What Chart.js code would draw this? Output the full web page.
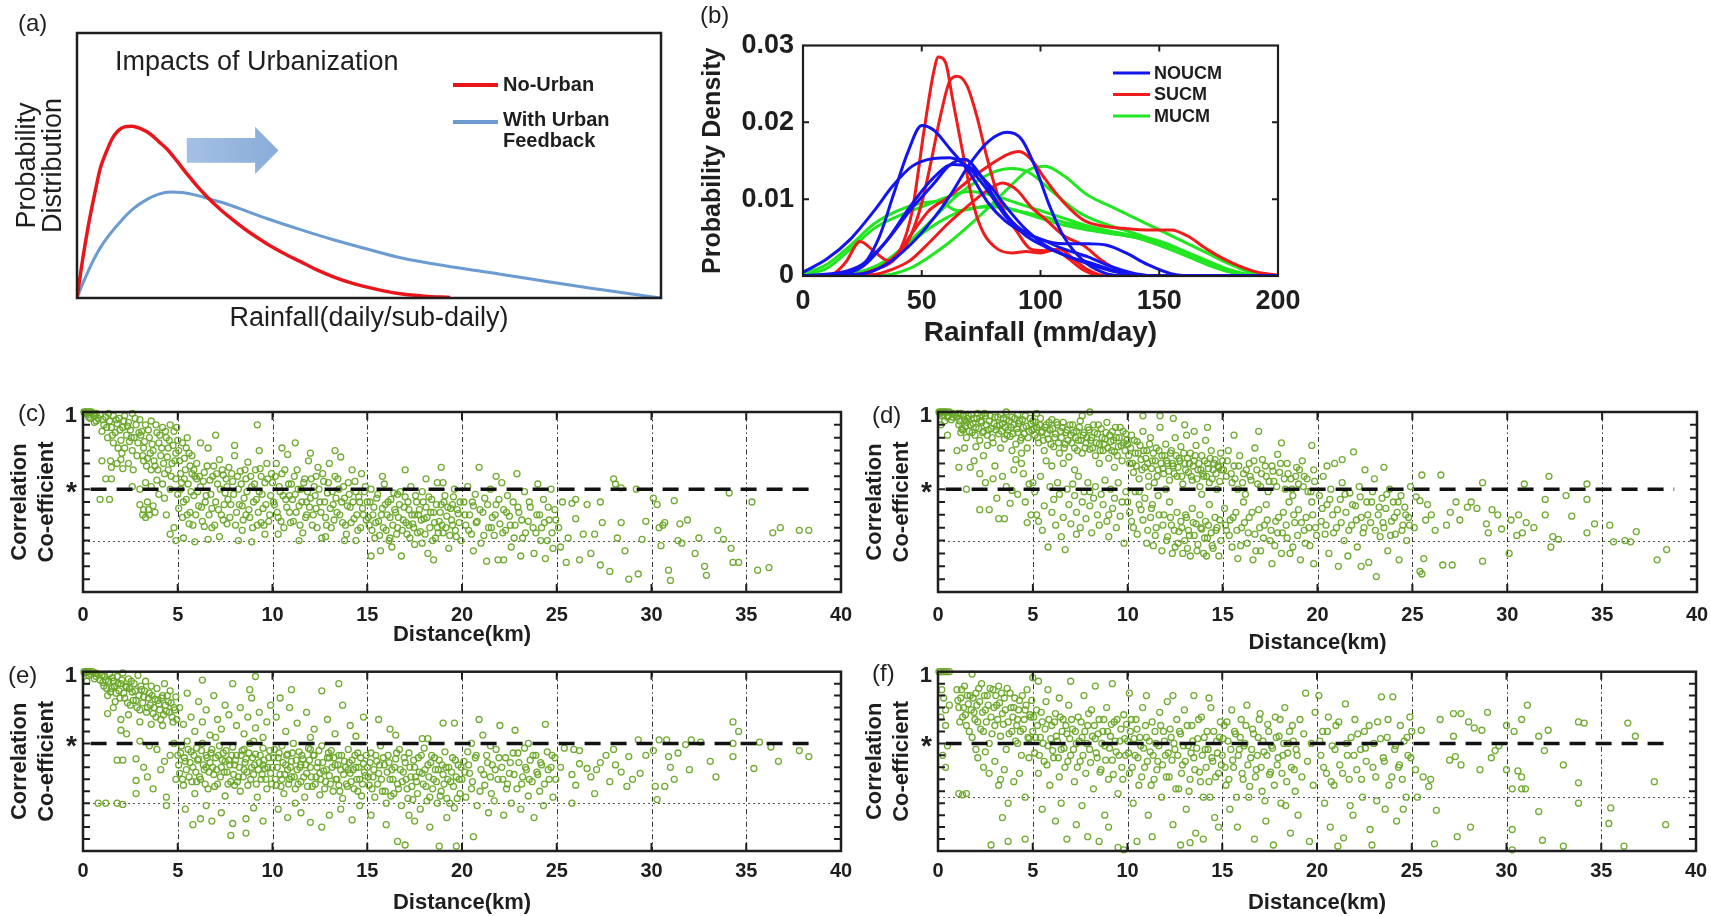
<!DOCTYPE html>
<html>
<head>
<meta charset="utf-8">
<script src="https://cdn.jsdelivr.net/npm/chart.js@4.4.1/dist/chart.umd.min.js"></script>
<style>
  body { margin: 0; background: #fff; width: 1711px; height: 916px; position: relative; overflow: hidden;
         font-family: "Liberation Sans", Arial, Helvetica, sans-serif; color: #1e1e1e; }
  .pane { position: absolute; }
  .tag { position: absolute; font-size: 24px; line-height: 24px; }
</style>
</head>
<body>
<div class="pane" style="left:0;top:0"><canvas id="chartA" width="690" height="345"></canvas></div>
<div class="pane" style="left:690px;top:20px"><canvas id="chartB" width="630" height="330"></canvas></div>
<div class="pane" style="left:0;top:395px"><canvas id="chartC" width="860" height="255"></canvas></div>
<div class="pane" style="left:855px;top:395px"><canvas id="chartD" width="856" height="265"></canvas></div>
<div class="pane" style="left:0;top:655px"><canvas id="chartE" width="860" height="262"></canvas></div>
<div class="pane" style="left:855px;top:655px"><canvas id="chartF" width="856" height="262"></canvas></div>

<div class="tag" style="left:18px;top:11px">(a)</div>
<div class="tag" style="left:700px;top:3px">(b)</div>
<div class="tag" style="left:18px;top:401px">(c)</div>
<div class="tag" style="left:872px;top:403px">(d)</div>
<div class="tag" style="left:8px;top:663px">(e)</div>
<div class="tag" style="left:872px;top:661px">(f)</div>

<script>
// ---- (a) schematic rainfall distributions (x: 0-100, y: 0-1) ----
const schemeNoUrban = [[0,0],[1,0.15],[2,0.28],[3,0.39],[4,0.49],[5,0.55],[6,0.6],[7,0.63],[8,0.645],[9.4,0.648],[11,0.638],
  [12.6,0.618],[14,0.59],[15.4,0.562],[17,0.52],[18.8,0.469],[20.5,0.424],[22.3,0.381],[24.5,0.335],[26.8,0.293],[29.5,0.248],
  [32.5,0.205],[35.3,0.17],[38.2,0.138],[41,0.107],[43.9,0.08],[46.8,0.058],[49.7,0.041],[52.5,0.027],[55.4,0.016],[59.5,0.007],[63.9,0.002]];
const schemeUrban = [[0,0],[1,0.055],[2,0.105],[2.8,0.142],[4,0.19],[5.7,0.243],[7.5,0.29],[9.7,0.338],[12,0.372],[14,0.392],
  [16,0.4],[18,0.398],[20,0.39],[22.5,0.375],[26,0.352],[29,0.328],[32.5,0.3],[38,0.26],[43.9,0.22],[50,0.183],[55.4,0.152],
  [64,0.118],[72.5,0.09],[81,0.06],[89.6,0.032],[95,0.015],[100,0]];

// ---- (b) probability density of daily rainfall, one array per run ----
const noucmRuns = [
  [[0,0],[25,0.0015],[32,0.005],[38,0.0105],[44,0.016],[50,0.0196],[55,0.019],[62,0.0165],[70,0.0135],[78,0.0095],[85,0.0072],[92,0.0058],[100,0.0048],[110,0.0035],[120,0.0025],[130,0.0012],[140,0.0003],[150,0],[200,0]],
  [[0,0],[25,0.0003],[35,0.0015],[45,0.004],[55,0.0075],[62,0.0105],[70,0.0145],[78,0.0175],[86,0.0187],[92,0.0178],[98,0.014],[104,0.009],[110,0.005],[118,0.002],[126,0.0005],[135,0],[200,0]],
  [[0,0.0005],[10,0.0022],[20,0.0048],[30,0.0085],[38,0.0118],[46,0.0143],[55,0.0153],[62,0.0154],[70,0.014],[78,0.011],[86,0.0075],[94,0.0052],[102,0.0038],[112,0.0025],[122,0.0014],[132,0.0005],[142,0],[200,0]],
  [[0,0],[15,0.0003],[25,0.0015],[35,0.0045],[45,0.0085],[55,0.012],[62,0.0145],[68,0.0152],[75,0.013],[82,0.0095],[90,0.0065],[100,0.0048],[110,0.0042],[120,0.0042],[128,0.004],[136,0.003],[145,0.0015],[155,0.0003],[165,0],[200,0]],
  [[0,0],[15,0.0002],[25,0.0012],[35,0.0045],[45,0.009],[55,0.0128],[63,0.0145],[70,0.0142],[78,0.012],[86,0.0088],[94,0.006],[102,0.004],[112,0.0025],[120,0.0018],[130,0.0008],[140,0.0001],[150,0],[200,0]]
];
const sucmRuns = [
  [[0,0],[12,0.0002],[18,0.0018],[24,0.0045],[30,0.0032],[36,0.002],[41,0.0035],[46,0.0085],[51,0.019],[55,0.0265],[57,0.0285],[60,0.0278],[63,0.023],[67,0.0165],[72,0.009],[76,0.0056],[82,0.0035],[88,0.003],[94,0.0032],[100,0.003],[106,0.0034],[112,0.0022],[118,0.0008],[126,0],[200,0]],
  [[0,0],[20,0],[30,0.0008],[38,0.002],[45,0.005],[50,0.0095],[54,0.015],[58,0.021],[62,0.0255],[65,0.026],[69,0.0248],[73,0.021],[77,0.016],[81,0.0115],[85,0.0082],[90,0.0058],[96,0.0035],[102,0.0033],[108,0.0035],[114,0.0022],[120,0.0008],[128,0],[200,0]],
  [[0,0],[25,0.0003],[33,0.0012],[40,0.003],[46,0.0056],[53,0.0085],[61,0.0102],[70,0.0125],[79,0.0145],[86,0.0158],[91,0.0162],[96,0.0152],[102,0.0126],[110,0.0095],[118,0.0073],[126,0.0065],[135,0.0062],[145,0.006],[155,0.006],[162,0.0052],[170,0.0035],[180,0.0018],[190,0.0006],[200,0.0001]],
  [[0,0],[30,0.0002],[37,0.0008],[45,0.002],[53,0.0043],[61,0.0068],[69,0.009],[77,0.011],[84,0.0121],[90,0.0112],[96,0.009],[102,0.0074],[110,0.0052],[118,0.004],[126,0.002],[134,0.0006],[142,0],[200,0]]
];
const mucmRuns = [
  [[0,0],[30,0],[45,0.001],[60,0.004],[75,0.008],[85,0.011],[95,0.0138],[102,0.0143],[110,0.013],[120,0.0105],[130,0.009],[140,0.0075],[150,0.006],[160,0.0045],[170,0.003],[180,0.0015],[190,0.0003],[200,0]],
  [[0,0],[20,0.0003],[35,0.002],[50,0.006],[65,0.0105],[80,0.0135],[88,0.014],[95,0.0135],[105,0.011],[115,0.0085],[125,0.007],[135,0.006],[145,0.005],[155,0.004],[165,0.0025],[175,0.001],[185,0.0002],[195,0],[200,0]],
  [[0,0.0002],[10,0.001],[20,0.0035],[30,0.0062],[40,0.0078],[50,0.009],[60,0.0102],[70,0.011],[80,0.0105],[90,0.0095],[100,0.0085],[110,0.0075],[120,0.0065],[130,0.0058],[140,0.0052],[150,0.0045],[160,0.0032],[170,0.0018],[180,0.0006],[190,0],[200,0]],
  [[0,0.0003],[10,0.0015],[20,0.004],[30,0.0068],[40,0.0085],[50,0.0095],[57,0.0097],[65,0.0085],[72,0.0088],[80,0.0092],[90,0.0085],[100,0.0075],[110,0.0066],[120,0.006],[130,0.0055],[140,0.005],[150,0.004],[160,0.0028],[170,0.0015],[180,0.0005],[190,0],[200,0]],
  [[0,0],[20,0.0002],[30,0.001],[40,0.003],[50,0.0055],[60,0.0075],[70,0.0088],[80,0.009],[90,0.0085],[100,0.0078],[110,0.007],[120,0.0063],[130,0.0056],[140,0.005],[150,0.0043],[160,0.0033],[170,0.002],[180,0.0008],[190,0.0001],[200,0]]
];

// ---- (c)-(f) correlation coefficient against station distance (km) ----
const corrC = [
  [0.05,1],[0.15,1],[0.25,1],[0.35,1],[0.45,1],[0.55,0.99],[0.7,0.99],[0.3,0.98],[0.6,0.97],[0.9,0.98],[0.8,0.95],[1.1,0.9],[0.4,0.95],[1.0,0.85],[0.6,0.92],
  [1.2,0.96],[1.4,0.93],[1.5,0.88],[1.6,0.97],[1.7,0.84],[1.8,0.91],[1.9,0.95],[2.0,0.78],[2.1,0.88],[2.2,0.97],[2.3,0.82],[2.4,0.92],[2.5,0.86],[2.6,0.99],[2.7,0.8],[2.8,0.9],[2.9,0.76],[3.0,0.94],
  [1.3,0.8],[1.6,0.76],[2.2,0.72],[2.6,0.7],[1.0,0.62],[1.5,0.57],[1.8,0.6],[2.0,0.63],[2.1,0.56],[2.4,0.6],[1.2,0.48],[1.5,0.48],[2.6,0.42],[0.9,0.32],[1.4,0.32],
  [3.1,0.85],[3.2,0.72],[3.3,0.9],[3.4,0.64],[3.5,0.8],[3.6,0.93],[3.7,0.7],[3.8,0.58],[3.9,0.84],[4.0,0.76],[4.1,0.66],[4.2,0.88],[4.3,0.52],[4.4,0.8],[4.5,0.72],[4.6,0.9],[4.7,0.6],[4.8,0.85],[4.9,0.68],[5.0,0.78],
  [3.3,0.45],[3.6,0.42],[3.9,0.47],[4.2,0.44],[4.6,0.4],[3.0,0.28],[3.2,0.24],[3.4,0.3],[3.5,0.2],[3.7,0.27],[3.3,0.18],[3.8,0.22],[4.4,0.2],[4.6,0.05],[4.8,0.1],[4.9,0.0],[4.3,0.33],[4.0,0.36],[3.6,0.55],[4.5,0.55],[4.9,0.48],[3.2,0.62],[3.0,0.4],
  [5.1,0.62],[5.2,0.45],[5.3,0.3],[5.4,0.55],[5.5,0.2],[5.6,0.68],[5.7,0.38],[5.8,0.12],[5.9,0.5],[6.0,0.6],[6.1,0.27],[6.2,0.42],[6.3,0.15],[6.4,0.53],[6.5,0.35],[6.6,0.72],[6.7,0.47],[6.8,0.1],[6.9,0.58],[7.0,0.3],
  [7.1,0.44],[7.2,0.63],[7.3,0.2],[7.4,0.51],[7.5,0.37],[7.6,0.13],[7.7,0.57],[7.8,0.28],[7.9,0.46],[8.0,0.66],[8.1,0.22],[8.2,0.4],[8.3,0.54],[8.4,0.08],[8.5,0.33],[8.6,0.48],[8.7,0.61],[8.8,0.18],[8.9,0.42],[9.0,0.3],
  [9.1,0.55],[9.2,0.12],[9.3,0.38],[9.4,0.5],[9.5,0.25],[9.6,0.45],[9.7,0.6],[9.8,0.15],[9.9,0.35],[5.3,0.02],[5.9,-0.01],[6.6,0.01],[7.2,0.03],[8.2,0.0],[8.9,-0.01],[5.5,0.8],[6.2,0.76],[7.0,0.82],[9.2,0.9],[8.0,0.74],
  [9.3,0.7],[6.8,0.25],[7.6,0.42],[8.4,0.27],[9.6,0.05],[5.0,0.36],[6.0,0.48],[7.4,0.16],[8.6,0.2],[9.4,0.14],[5.6,0.13],[6.4,0.11],
  [10.0,0.45],[10.1,0.28],[10.2,0.6],[10.3,0.18],[10.4,0.38],[10.5,0.52],[10.6,0.1],[10.7,0.32],[10.8,0.67],[10.9,0.22],[11.0,0.44],[11.1,0.15],[11.2,0.36],[11.3,0.55],[11.4,0.27],[11.5,0.4],[11.6,0.06],[11.7,0.48],[11.8,0.2],[11.9,0.62],
  [12.0,0.33],[12.1,0.12],[12.2,0.42],[12.3,0.25],[12.4,0.57],[12.5,0.3],[12.6,0.02],[12.7,0.46],[12.8,0.18],[12.9,0.37],[13.0,0.6],[13.1,0.1],[13.2,0.28],[13.3,0.5],[13.4,0.22],[13.5,0.4],[13.6,0.65],[13.7,0.14],[13.8,0.33],[13.9,0.05],
  [14.0,0.45],[14.1,0.26],[14.2,0.55],[14.3,0.17],[14.4,0.38],[14.5,0.08],[14.6,0.3],[14.7,0.52],[14.8,0.2],[14.9,0.42],[10.5,0.72],[11.2,0.76],[12.0,0.68],[13.3,0.7],[10.3,0.05],[11.4,0.0],[12.8,0.03],[13.8,0.0],[14.4,0.0],[12.3,0.5],
  [10.9,0.35],[11.8,0.3],
  [15.0,0.3],[15.1,0.12],[15.2,0.4],[15.3,0.2],[15.4,0.02],[15.5,0.33],[15.6,0.15],[15.7,-0.08],[15.8,0.25],[15.9,0.44],[16.0,0.08],[16.1,0.3],[16.2,0.18],[16.3,-0.05],[16.4,0.37],[16.5,0.22],[16.6,0.1],[16.7,0.28],[16.8,-0.12],[16.9,0.16],
  [17.0,0.34],[17.1,0.05],[17.2,0.24],[17.3,0.42],[17.4,0.13],[17.5,-0.03],[17.6,0.3],[17.7,0.2],[17.8,0.07],[17.9,0.38],[18.0,0.17],[18.1,0.26],[18.2,-0.1],[18.3,0.1],[18.4,0.32],[18.5,0.22],[18.6,0.02],[18.7,0.45],[18.8,0.15],[18.9,0.28],
  [19.0,0.06],[19.1,0.35],[19.2,0.19],[19.3,-0.06],[19.4,0.25],[19.5,0.12],[19.6,0.4],[19.7,0.03],[19.8,0.21],[19.9,0.3],[15.8,0.5],[17.0,0.55],[18.1,0.48],[16.6,0.36],[17.5,0.2],[18.7,0.1],[19.5,0.28],[19.0,0.45],[16.2,0.02],[17.9,-0.02],
  [15.2,-0.12],[18.5,-0.15],[17.2,0.12],[18.9,0.57],
  [20.1,0.3],[20.2,0.12],[20.3,0.42],[20.4,0.2],[20.5,0.05],[20.6,0.27],[20.7,0.36],[20.8,0.15],[20.9,0.57],[21.0,-0.02],[21.1,0.22],[21.2,0.33],[21.3,-0.16],[21.4,0.1],[21.5,0.4],[21.6,0.18],[21.7,0.04],[21.8,0.28],[21.9,-0.15],[22.0,0.13],
  [22.1,0.45],[22.2,0.24],[22.3,0.08],[22.4,0.35],[22.5,0.19],[22.6,-0.05],[22.7,0.3],[22.8,0.12],[22.9,0.52],[23.0,0.22],[23.2,0.02],[23.3,0.38],[23.5,0.15],[23.6,0.26],[23.8,-0.1],[23.9,0.06],[24.0,0.44],[24.1,0.2],[24.2,0.1],[24.3,0.32],
  [24.5,0.0],[24.6,0.16],[24.7,0.4],[24.8,-0.06],[24.9,0.24],[20.6,-0.08],[21.8,0.5],[23.1,-0.12],[22.2,-0.15],[24.4,-0.14],
  [25.1,0.1],[25.3,0.3],[25.5,-0.17],[25.6,0.02],[25.8,0.29],[26.0,0.17],[26.2,-0.15],[26.4,0.05],[26.6,0.28],[26.8,-0.1],[27.0,0.05],[27.3,0.3],[27.4,0.14],[27.3,-0.19],[27.8,-0.24],[28.0,0.48],[28.2,0.02],[28.4,0.41],[28.4,0.14],[28.6,-0.08],
  [28.8,-0.3],[29.3,-0.26],[29.5,0.01],[29.7,0.15],[29.2,0.4],[28.1,0.44],[26.0,0.32],[25.2,-0.05],
  [30.1,0.33],[30.3,0.28],[30.4,0.1],[30.5,-0.04],[30.7,0.14],[30.9,-0.23],[31.0,-0.31],[31.2,0.31],[31.4,0.0],[31.6,-0.02],[31.9,0.16],[32.3,-0.1],[32.5,0.02],[32.8,-0.2],[32.9,-0.27],[33.5,0.08],[33.8,0.01],[34.1,0.37],[34.2,-0.06],[34.3,-0.17],
  [34.6,-0.17],[30.6,0.12],[31.5,0.13],
  [35.3,0.3],[35.6,-0.23],[36.2,-0.21],[36.4,0.06],[36.8,0.1],[37.8,0.08],[38.3,0.08]
];
// crowded core of the (c) cloud
const corrCCore = [
  [0.1,0.99],[0.3,0.96],[0.7,0.93],[1.05,0.94],[1.35,0.99],[1.55,0.82],[1.75,0.94],[1.95,0.86],[2.15,0.93],[2.35,0.89],[2.55,0.8],[2.75,0.95],[2.95,0.84],[1.25,0.88],[1.85,0.72],[2.45,0.77],[2.05,0.68],[2.85,0.66],[1.45,0.62],[2.65,0.55],
  [3.05,0.82],[3.15,0.66],[3.25,0.77],[3.35,0.58],[3.45,0.86],[3.55,0.68],[3.65,0.75],[3.75,0.62],[3.85,0.9],[3.95,0.55],[4.05,0.82],[4.15,0.72],[4.25,0.6],[4.35,0.85],[4.45,0.65],[4.55,0.78],[4.65,0.5],[4.75,0.74],[4.85,0.62],[4.95,0.88],
  [5.05,0.7],[5.15,0.52],[5.25,0.76],[5.35,0.64],[5.45,0.72],[5.65,0.58],[5.75,0.66],[5.85,0.55],[3.45,0.24],[3.15,0.2],
  [5.05,0.25],[5.15,0.4],[5.25,0.18],[5.35,0.48],[5.45,0.32],[5.55,0.44],[5.65,0.22],[5.75,0.52],[5.85,0.35],[5.95,0.2],[6.05,0.38],[6.15,0.5],[6.25,0.26],[6.35,0.46],[6.45,0.3],[6.55,0.58],[6.65,0.2],[6.75,0.36],[6.85,0.5],[6.95,0.12],
  [7.05,0.52],[7.15,0.24],[7.25,0.4],[7.35,0.55],[7.45,0.28],[7.55,0.48],[7.65,0.32],[7.75,0.18],[7.85,0.52],[7.95,0.36],[8.05,0.12],[8.15,0.5],[8.25,0.28],[8.35,0.44],[8.45,0.16],[8.55,0.55],[8.65,0.38],[8.75,0.24],[8.85,0.5],[8.95,0.1],
  [9.05,0.44],[9.15,0.32],[9.25,0.22],[9.35,0.56],[9.45,0.36],[9.55,0.12],[9.65,0.28],[9.75,0.48],[9.85,0.2],[9.95,0.52],
  [10.05,0.3],[10.15,0.5],[10.25,0.22],[10.35,0.42],[10.45,0.15],[10.55,0.35],[10.65,0.55],[10.75,0.26],[10.85,0.44],[10.95,0.14],[11.05,0.32],[11.15,0.5],[11.25,0.22],[11.35,0.4],[11.45,0.12],[11.55,0.3],[11.65,0.45],[11.75,0.18],[11.85,0.38],[11.95,0.26],
  [12.05,0.48],[12.15,0.2],[12.25,0.35],[12.35,0.1],[12.45,0.4],[12.55,0.22],[12.65,0.52],[12.75,0.3],[12.85,0.12],[12.95,0.45],[13.05,0.25],[13.15,0.38],[13.25,0.16],[13.35,0.33],[13.45,0.48],[13.55,0.2],[13.65,0.3],[13.75,0.42],[13.85,0.12],[13.95,0.27],
  [14.05,0.36],[14.15,0.14],[14.25,0.3],[14.35,0.46],[14.45,0.2],[14.55,0.34],[14.65,0.1],[14.75,0.25],[14.85,0.38],[14.95,0.16],
  [15.05,0.18],[15.15,0.3],[15.25,0.08],[15.35,0.26],[15.45,0.14],[15.55,0.36],[15.65,0.04],[15.75,0.2],[15.85,0.1],[15.95,0.28],[16.05,0.2],[16.15,0.0],[16.25,0.32],[16.35,0.12],[16.45,0.24],[16.55,0.05],[16.65,0.18],[16.75,0.38],[16.85,0.08],[16.95,0.26],
  [17.05,0.14],[17.15,0.3],[17.25,0.02],[17.35,0.2],[17.45,0.1],[17.55,0.35],[17.65,0.06],[17.75,0.24],[17.85,0.16],[17.95,0.3],[18.05,0.05],[18.15,0.18],[18.25,0.34],[18.35,0.22],[18.45,0.0],[18.55,0.14],[18.65,0.28],[18.75,0.06],[18.85,0.22],[18.95,0.12],
  [19.05,0.3],[19.15,0.1],[19.25,0.26],[19.35,0.04],[19.45,0.16],[19.55,0.34],[19.65,0.08],[19.75,0.24],[19.85,0.14],[19.95,0.0],
  [20.15,0.2],[20.35,0.08],[20.55,0.3],[20.75,0.14],[20.95,0.24],[21.15,0.04],[21.35,0.28],[21.55,0.1],[21.75,0.2],[21.95,0.32],[22.15,0.06],[22.35,0.22],[22.55,0.12],[22.75,0.02],[22.95,0.26],[23.15,0.16],[23.35,0.06],[23.55,0.3],[23.75,0.1],[23.95,0.2],
  [24.15,0.0],[24.35,0.14],[24.55,0.26],[24.75,0.06],[24.95,0.16]
];
const corrD = [
  [0.05,1],[0.15,1],[0.25,1],[0.35,1],[0.45,1],[0.6,1],[0.75,0.99],[0.2,0.97],[0.5,0.96],[0.9,0.98],[0.35,0.93],[0.7,0.94],[0.15,0.9],[0.5,0.82],
  [1.0,0.96],[1.1,0.9],[1.2,0.99],[1.3,0.86],[1.4,0.94],[1.5,0.8],[1.6,0.97],[1.7,0.9],[1.8,0.84],[1.9,0.95],[2.0,0.88],[2.1,0.99],[2.2,0.78],[2.3,0.92],[2.4,0.85],[2.5,0.97],[2.6,0.82],[2.7,0.93],[2.8,0.87],[2.9,0.76],
  [3.0,0.96],[3.1,0.89],[3.2,0.83],[3.3,0.98],[3.4,0.91],[3.5,0.79],[3.6,0.94],[3.7,0.86],[3.8,0.81],[3.9,0.96],[4.0,0.9],[4.1,0.75],[4.2,0.84],[4.3,0.93],[4.4,0.8],[4.5,0.88],[4.6,0.97],[4.7,0.72],[4.8,0.85],[4.9,0.91],
  [1.2,0.84],[2.0,0.73],[2.6,0.74],[3.3,0.72],[3.9,0.7],[4.4,0.68],[1.5,0.92],[2.3,0.98],[3.6,1.0],[4.2,0.98],[1.0,0.7],[1.4,0.72],
  [1.1,0.57],[1.5,0.4],[1.7,0.57],[2.2,0.52],[2.4,0.66],[2.9,0.48],[3.4,0.5],[2.2,0.24],[2.7,0.24],[3.2,0.17],[3.5,0.17],[3.1,0.33],[3.8,0.29],[3.9,0.39],[4.1,0.63],[4.5,0.52],[4.8,0.44],[4.4,0.6],[3.0,0.58],[2.5,0.45],
  [4.2,0.36],[4.6,0.3],[4.9,0.2],[4.7,0.14],[3.6,0.42],[1.9,0.62],[4.0,0.55],
  [5.0,0.93],[5.1,0.82],[5.2,0.88],[5.3,0.76],[5.4,0.95],[5.5,0.85],[5.6,0.7],[5.7,0.9],[5.8,0.79],[5.9,0.86],[6.0,0.94],[6.1,0.73],[6.2,0.83],[6.3,0.9],[6.4,0.68],[6.5,0.8],[6.6,0.92],[6.7,0.75],[6.8,0.86],[6.9,0.65],
  [7.0,0.82],[7.1,0.9],[7.2,0.72],[7.3,0.85],[7.4,0.78],[7.5,0.93],[7.6,0.68],[7.7,0.84],[7.8,0.76],[7.9,0.88],[8.0,0.71],[8.1,0.8],[8.2,0.9],[8.3,0.66],[8.4,0.83],[8.5,0.75],[8.6,0.87],[8.7,0.7],[8.8,0.79],[8.9,0.92],
  [9.0,0.64],[9.1,0.77],[9.2,0.85],[9.3,0.69],[9.4,0.8],[9.5,0.73],[9.6,0.88],[9.7,0.62],[9.8,0.76],[9.9,0.83],[6.0,0.58],[7.2,0.55],[8.5,0.6],[9.3,0.57],[5.7,0.62],[6.6,0.6],[8.0,1.0],[7.6,0.97],[5.2,0.99],
  [5.0,0.45],[5.1,0.38],[5.2,0.2],[5.3,0.15],[5.4,0.5],[5.5,0.08],[5.6,0.27],[5.8,-0.05],[5.9,0.42],[6.1,0.32],[6.2,0.12],[6.3,0.45],[6.4,0.36],[6.5,0.03],[6.6,0.18],[6.7,-0.07],[6.8,0.4],[6.9,0.28],[7.0,0.13],[7.1,0.44],
  [7.2,0.35],[7.3,0.22],[7.4,0.5],[7.5,0.1],[7.6,0.3],[7.7,0.38],[7.8,0.17],[7.9,0.45],[8.0,0.27],[8.1,0.06],[8.2,0.33],[8.3,0.42],[8.4,0.2],[8.5,0.12],[8.6,0.36],[8.7,0.28],[8.8,0.47],[8.9,0.15],[9.0,0.03],[9.1,0.4],
  [9.2,0.25],[9.3,0.33],[9.4,0.1],[9.5,0.45],[9.6,0.19],[9.7,0.3],[9.8,-0.02],[9.9,0.38],[6.0,0.22],[8.0,0.38],[9.0,0.2],[7.3,0.05],
  [10.0,0.75],[10.1,0.6],[10.2,0.82],[10.3,0.53],[10.4,0.68],[10.5,0.77],[10.6,0.48],[10.7,0.63],[10.8,0.85],[10.9,0.57],[11.0,0.7],[11.1,0.5],[11.2,0.8],[11.3,0.62],[11.4,0.45],[11.5,0.72],[11.6,0.55],[11.7,0.88],[11.8,0.66],[11.9,0.52],
  [12.0,0.75],[12.1,0.6],[12.2,0.47],[12.3,0.7],[12.4,0.58],[12.5,0.8],[12.6,0.5],[12.7,0.64],[12.8,0.73],[12.9,0.44],[13.0,0.6],[13.1,0.82],[13.2,0.53],[13.3,0.68],[13.4,0.47],[13.5,0.62],[13.6,0.74],[13.7,0.55],[13.8,0.42],[13.9,0.66],
  [14.0,0.5],[14.1,0.78],[14.2,0.6],[14.3,0.45],[14.4,0.7],[14.5,0.55],[14.6,0.63],[14.7,0.4],[14.8,0.57],[14.9,0.68],[10.8,0.97],[11.7,0.97],[12.4,0.95],[13.0,0.9],[14.2,0.88],[13.5,0.85],
  [10.0,0.3],[10.2,0.15],[10.4,0.38],[10.5,0.05],[10.7,0.24],[10.9,0.33],[11.0,-0.02],[11.2,0.18],[11.3,0.28],[11.5,0.1],[11.6,0.35],[11.8,-0.08],[11.9,0.2],[12.1,0.03],[12.2,0.3],[12.3,0.12],[12.5,-0.05],[12.6,0.22],[12.7,0.07],[12.8,0.15],
  [12.9,-0.1],[13.0,0.0],[13.1,0.18],[13.2,0.08],[13.3,-0.12],[13.4,0.25],[13.5,0.04],[13.6,0.13],[13.7,-0.03],[13.8,0.2],[13.9,0.09],[14.0,-0.1],[14.1,0.15],[14.2,0.02],[14.3,0.28],[14.4,0.06],[14.5,-0.06],[14.6,0.18],[14.7,0.1],[14.8,-0.12],
  [14.9,0.0],[12.0,0.4],[11.1,0.42],[13.9,0.36],[10.6,0.38],
  [15.0,0.62],[15.2,0.5],[15.3,0.7],[15.5,0.45],[15.6,0.58],[15.8,0.4],[15.9,0.66],[16.1,0.52],[16.2,0.36],[16.4,0.6],[16.5,0.47],[16.7,0.72],[16.8,0.55],[17.0,0.42],[17.1,0.63],[17.3,0.5],[17.4,0.38],[17.6,0.58],[17.7,0.46],[17.9,0.67],
  [18.0,0.53],[18.1,0.76],[18.3,0.4],[18.4,0.6],[18.6,0.48],[18.7,0.35],[18.9,0.57],[19.0,0.44],[19.2,0.62],[19.3,0.5],[19.5,0.38],[19.7,0.74],[19.8,0.55],[15.6,0.82],[16.9,0.85],
  [15.1,0.25],[15.2,0.08],[15.4,0.16],[15.5,-0.05],[15.7,0.22],[15.8,-0.14],[16.0,0.1],[16.1,0.3],[16.3,-0.02],[16.4,0.18],[16.6,-0.15],[16.7,0.05],[16.9,0.24],[17.0,-0.08],[17.2,0.12],[17.3,0.28],[17.5,0.0],[17.6,-0.18],[17.8,0.15],[17.9,0.06],
  [18.1,-0.1],[18.2,0.22],[18.4,0.02],[18.5,0.3],[18.7,-0.05],[18.8,0.14],[19.0,0.24],[19.1,-0.15],[19.3,0.08],[19.4,0.18],[19.6,-0.04],[19.7,0.3],[19.9,0.1],[19.8,-0.18],
  [20.1,0.35],[20.2,0.15],[20.3,0.5],[20.4,0.05],[20.5,0.28],[20.6,-0.1],[20.7,0.4],[20.8,0.2],[20.9,0.6],[21.0,0.1],[21.1,-0.2],[21.2,0.32],[21.3,0.45],[21.4,0.0],[21.5,0.22],[21.6,-0.12],[21.7,0.37],[21.8,0.12],[21.9,0.69],[22.0,0.27],
  [22.1,-0.05],[22.2,0.42],[22.3,0.18],[22.4,0.06],[22.5,0.55],[22.6,0.3],[22.7,-0.17],[22.8,0.14],[22.9,0.38],[23.0,0.48],[23.1,-0.28],[23.2,0.2],[23.3,0.03],[23.4,0.33],[23.5,0.1],[23.6,0.25],[23.7,-0.08],[23.8,0.4],[23.9,0.15],[24.0,0.3],
  [24.1,0.05],[24.2,0.22],[24.3,-0.15],[24.4,0.35],[24.5,0.12],[24.6,0.26],[24.7,0.0],[24.8,0.18],[24.9,0.42],[20.5,0.58],[21.3,0.63],[23.5,0.57],[22.3,-0.2],
  [25.5,0.51],[26.5,0.51],[25.2,0.34],[25.4,0.31],[25.7,0.16],[25.4,-0.24],[25.5,-0.26],[25.6,-0.14],[26.6,-0.19],[27.1,-0.19],[27.3,0.3],[27.5,0.16],[27.9,0.26],[28.7,-0.16],[28.7,0.45],[28.9,0.13],[29.0,0.06],[29.2,0.24],[29.7,0.09],[28.4,0.25],
  [26.0,0.2],[26.2,0.08],[25.8,0.28],[27.0,0.22],[28.1,0.3],[26.8,0.12],[25.1,0.1],[29.5,0.2],
  [30.2,0.16],[30.5,0.04],[30.8,0.06],[30.9,0.44],[30.1,-0.1],[31.4,0.1],[32.0,0.32],[32.0,0.2],[32.2,0.5],[32.3,-0.05],[32.4,0.03],[32.7,0.01],[33.1,0.35],[33.4,0.19],[34.2,0.32],[34.2,0.44],[34.2,0.06],[34.6,0.13],[31.0,0.14],[30.6,0.2],
  [35.4,0.12],[35.6,-0.01],[36.2,0.0],[36.5,-0.01],[36.8,0.07],[37.9,-0.15],[38.4,-0.07]
];
const corrDCore = [
  [0.1,0.99],[0.3,0.98],[0.55,0.97],[0.8,0.96],[1.05,0.99],[1.15,0.93],[1.25,0.87],[1.35,0.97],[1.45,0.89],[1.55,0.95],[1.65,0.85],[1.75,0.98],[1.85,0.91],[1.95,0.82],[2.05,0.95],[2.15,0.87],[2.25,0.93],[2.35,0.84],[2.45,0.99],[2.55,0.9],
  [2.65,0.86],[2.75,0.97],[2.85,0.8],[2.95,0.91],[3.05,0.86],[3.15,0.96],[3.25,0.9],[3.35,0.85],[3.45,0.95],[3.55,0.88],[3.65,0.82],[3.75,0.93],[3.85,0.88],[3.95,0.83],[4.05,0.95],[4.15,0.87],[4.25,0.91],[4.35,0.78],[4.45,0.94],[4.55,0.83],
  [4.65,0.89],[4.75,0.8],[4.85,0.95],[4.95,0.86],
  [5.05,0.87],[5.15,0.92],[5.25,0.8],[5.35,0.9],[5.45,0.84],[5.55,0.78],[5.65,0.88],[5.75,0.83],[5.85,0.92],[5.95,0.75],[6.05,0.87],[6.15,0.8],[6.25,0.92],[6.35,0.76],[6.45,0.85],[6.55,0.88],[6.65,0.72],[6.75,0.84],[6.85,0.78],[6.95,0.9],
  [7.05,0.76],[7.15,0.84],[7.25,0.8],[7.35,0.7],[7.45,0.88],[7.55,0.78],[7.65,0.82],[7.75,0.72],[7.85,0.8],[7.95,0.86],[8.05,0.78],[8.15,0.72],[8.25,0.84],[8.35,0.76],[8.45,0.9],[8.55,0.7],[8.65,0.8],[8.75,0.75],[8.85,0.84],[8.95,0.72],
  [9.05,0.82],[9.15,0.7],[9.25,0.78],[9.35,0.88],[9.45,0.66],[9.55,0.8],[9.65,0.74],[9.75,0.85],[9.85,0.7],[9.95,0.78],
  [10.05,0.66],[10.15,0.72],[10.25,0.6],[10.35,0.78],[10.45,0.58],[10.55,0.68],[10.65,0.74],[10.75,0.55],[10.85,0.7],[10.95,0.64],[11.05,0.6],[11.15,0.75],[11.25,0.56],[11.35,0.68],[11.45,0.62],[11.55,0.5],[11.65,0.7],[11.75,0.6],[11.85,0.56],[11.95,0.66],
  [12.05,0.62],[12.15,0.54],[12.25,0.68],[12.35,0.6],[12.45,0.52],[12.55,0.66],[12.65,0.57],[12.75,0.62],[12.85,0.5],[12.95,0.68],[13.05,0.55],[13.15,0.64],[13.25,0.6],[13.35,0.5],[13.45,0.58],[13.55,0.66],[13.65,0.48],[13.75,0.6],[13.85,0.55],[13.95,0.52],
  [14.05,0.62],[14.15,0.5],[14.25,0.56],[14.35,0.64],[14.45,0.48],[14.55,0.6],[14.65,0.52],[14.75,0.58],[14.85,0.46],[14.95,0.55],
  [10.1,0.22],[10.3,0.1],[10.6,0.28],[10.8,0.16],[11.05,0.08],[11.25,0.25],[11.45,0.04],[11.65,0.2],[11.85,0.12],[12.05,0.0],[12.25,0.18],[12.45,0.08],[12.65,-0.02],[12.85,0.1],[13.05,0.2],[13.25,0.04],[13.45,0.14],[13.65,-0.08],[13.85,0.1],[14.05,0.02],
  [14.25,0.12],[14.45,-0.04],[14.65,0.08],[14.85,0.16],[12.35,-0.1],[13.15,-0.06],[14.15,-0.12],[11.35,-0.04],
  [15.05,0.55],[15.25,0.62],[15.45,0.52],[15.65,0.48],[15.85,0.58],[16.05,0.45],[16.25,0.55],[16.45,0.5],[16.65,0.62],[16.85,0.44],[17.05,0.52],[17.25,0.58],[17.45,0.46],[17.65,0.54],[17.85,0.42],[18.05,0.6],[18.25,0.48],[18.45,0.52],[18.65,0.4],[18.85,0.5],
  [19.05,0.55],[19.25,0.42],[19.45,0.48],[19.65,0.38],[19.85,0.46],
  [15.15,0.12],[15.35,0.04],[15.55,0.18],[15.75,0.08],[15.95,-0.04],[16.15,0.14],[16.35,0.06],[16.55,0.22],[16.75,-0.08],[16.95,0.1],[17.15,0.02],[17.35,0.16],[17.55,0.08],[17.75,-0.04],[17.95,0.18],[18.15,0.06],[18.35,0.12],[18.55,-0.1],[18.75,0.2],[18.95,0.04],
  [19.15,0.14],[19.35,-0.02],[19.55,0.1],[19.75,0.2],[19.95,0.04],
  [20.25,0.25],[20.45,0.12],[20.65,0.32],[20.85,0.06],[21.05,0.24],[21.25,0.14],[21.45,0.36],[21.65,0.08],[21.85,0.28],[22.05,0.16],[22.25,0.34],[22.45,0.1],[22.65,0.2],[22.85,0.3],[23.05,0.08],[23.25,0.26],[23.45,0.14],[23.65,0.36],[23.85,0.04],[24.05,0.18],
  [24.25,0.3],[24.45,0.08],[24.65,0.2],[24.85,0.12]
];
const corrE = [
  [0.05,1],[0.15,1],[0.25,1],[0.35,1],[0.5,1],[0.65,0.99],[0.3,0.97],[0.8,0.98],[0.6,0.94],[0.2,0.92],
  [1.0,0.97],[1.1,0.88],[1.2,0.93],[1.3,0.8],[1.4,0.98],[1.5,0.86],[1.6,0.92],[1.7,0.75],[1.8,0.96],[1.9,0.84],[2.0,0.9],[2.1,0.99],[2.2,0.78],[2.3,0.87],[2.4,0.94],[2.5,0.72],[2.6,0.83],[2.7,0.9],[2.8,0.76],[2.9,0.97],
  [3.0,0.68],[3.1,0.85],[3.2,0.79],[3.3,0.92],[3.4,0.7],[3.5,0.82],[3.6,0.88],[3.7,0.65],[3.8,0.77],[3.9,0.86],[4.0,0.73],[4.1,0.6],[4.2,0.8],[4.3,0.9],[4.4,0.67],[4.5,0.75],[4.6,0.84],[4.7,0.62],[4.8,0.7],[4.9,0.79],
  [1.6,0.7],[2.4,0.64],[3.0,0.58],[3.6,0.56],[4.2,0.55],[2.0,0.6],[1.3,0.65],
  [2.0,0.51],[2.1,0.26],[1.8,0.26],[2.8,0.27],[3.2,0.2],[2.8,0.09],[3.4,0.12],[2.8,-0.02],[3.7,0.02],[2.3,0.48],[0.8,-0.1],[1.2,-0.1],[1.8,-0.1],[2.1,-0.11],[4.4,-0.12],[4.4,-0.05],[3.9,0.35],[4.6,0.3],[4.1,0.18],[4.8,0.4],
  [3.5,0.38],[4.9,0.1],[4.3,0.25],[3.0,0.42],
  [5.1,0.7],[5.3,0.56],[5.5,0.82],[5.7,0.62],[5.9,0.5],[6.1,0.75],[6.3,0.58],[6.5,0.68],[6.7,0.47],[6.9,0.8],[7.1,0.6],[7.3,0.52],[7.5,0.72],[7.7,0.64],[7.9,0.9],[8.1,0.55],[8.3,0.7],[8.5,0.48],[8.7,0.62],[8.9,0.78],
  [9.1,0.53],[9.3,0.66],[9.5,0.45],[9.7,0.58],[9.9,0.72],[9.1,0.96],[6.3,0.93],[8.8,0.85],
  [5.0,0.3],[5.1,0.15],[5.2,0.38],[5.3,0.05],[5.4,0.25],[5.5,0.42],[5.6,0.12],[5.7,0.33],[5.8,0.2],[5.9,-0.02],[6.0,0.36],[6.1,0.27],[6.2,0.1],[6.3,0.4],[6.4,0.18],[6.5,0.3],[6.6,0.02],[6.7,0.24],[6.8,0.35],[6.9,0.14],
  [7.0,0.28],[7.1,0.06],[7.2,0.38],[7.3,0.2],[7.4,0.32],[7.5,-0.04],[7.6,0.16],[7.7,0.26],[7.8,0.08],[7.9,0.37],[8.0,0.22],[8.1,0.3],[8.2,0.12],[8.3,0.0],[8.4,0.34],[8.5,0.18],[8.6,0.27],[8.7,0.05],[8.8,0.4],[8.9,0.2],
  [9.0,0.14],[9.1,0.31],[9.2,-0.05],[9.3,0.24],[9.4,0.1],[9.5,0.36],[9.6,0.19],[9.7,0.02],[9.8,0.28],[9.9,0.15],[6.0,0.08],[7.0,0.45],[8.0,0.05],[9.0,0.42],[6.5,0.2],[7.5,0.25],[8.5,0.35],[9.5,0.22],
  [6.2,-0.23],[6.8,-0.25],[7.9,-0.27],[8.6,-0.23],[9.5,-0.25],[8.6,-0.35],[7.8,-0.37],[5.4,-0.15],[6.5,-0.12],[7.3,-0.18],[9.0,-0.14],[5.8,-0.28],
  [10.0,0.2],[10.1,0.35],[10.2,0.05],[10.3,0.28],[10.4,0.14],[10.5,0.38],[10.6,-0.02],[10.7,0.22],[10.8,0.31],[10.9,0.1],[11.0,0.25],[11.1,0.4],[11.2,0.02],[11.3,0.18],[11.4,0.33],[11.5,0.08],[11.6,0.27],[11.7,-0.05],[11.8,0.15],[11.9,0.36],
  [12.0,0.2],[12.1,0.04],[12.2,0.3],[12.3,0.12],[12.4,0.24],[12.5,-0.03],[12.6,0.38],[12.7,0.17],[12.8,0.08],[12.9,0.28],[13.0,0.13],[13.1,0.34],[13.2,0.0],[13.3,0.22],[13.4,0.1],[13.5,0.3],[13.6,0.18],[13.7,-0.06],[13.8,0.25],[13.9,0.06],
  [14.0,0.35],[14.1,0.15],[14.2,0.26],[14.3,0.02],[14.4,0.2],[14.5,0.32],[14.6,0.1],[14.7,-0.04],[14.8,0.23],[14.9,0.13],[10.5,0.1],[11.5,0.22],[12.5,0.15],[13.5,0.05],[14.5,0.0],[11.0,0.12],[12.0,0.35],[13.0,0.28],[14.0,0.18],[10.8,0.18],
  [10.2,0.62],[10.4,0.78],[10.7,0.5],[10.9,0.7],[11.3,0.57],[11.8,0.66],[12.2,0.52],[12.6,0.84],[12.9,0.6],[13.3,0.48],[13.7,0.72],[14.1,0.55],[14.4,0.46],[14.8,0.62],[11.0,0.85],[13.5,0.9],[12.0,0.45],
  [10.3,-0.15],[10.8,-0.22],[11.5,-0.18],[12.0,-0.26],[12.6,-0.3],[13.0,-0.2],[13.6,-0.15],[14.2,-0.24],[14.6,-0.12],[11.2,-0.1],
  [15.0,0.2],[15.1,0.05],[15.2,0.32],[15.3,0.12],[15.4,-0.05],[15.5,0.25],[15.6,0.15],[15.7,0.38],[15.8,0.0],[15.9,0.22],[16.0,-0.1],[16.1,0.3],[16.2,0.1],[16.3,0.18],[16.4,-0.02],[16.5,0.27],[16.6,0.06],[16.7,0.35],[16.8,-0.12],[16.9,0.16],
  [17.0,0.24],[17.1,0.02],[17.2,0.32],[17.3,0.12],[17.4,-0.07],[17.5,0.2],[17.6,0.08],[17.7,0.28],[17.8,-0.15],[17.9,0.15],[18.0,0.36],[18.1,0.04],[18.2,0.22],[18.3,-0.05],[18.4,0.3],[18.5,0.1],[18.6,0.18],[18.7,-0.1],[18.8,0.26],[18.9,0.0],
  [19.0,0.14],[19.1,0.33],[19.2,-0.06],[19.3,0.2],[19.4,0.08],[19.5,0.28],[19.6,-0.14],[19.7,0.12],[19.8,0.22],[19.9,-0.02],
  [15.6,0.6],[16.5,0.47],[17.9,0.44],[16.2,0.52],[19.0,0.57],[19.6,0.57],[18.2,0.44],[15.2,-0.2],[16.0,-0.28],[16.6,-0.42],[17.0,-0.45],[17.5,-0.25],[18.3,-0.3],[18.8,-0.46],[19.7,-0.46],[19.2,-0.22],[17.2,-0.2],
  [20.0,0.1],[20.1,0.25],[20.2,-0.05],[20.3,0.33],[20.4,0.15],[20.6,-0.38],[20.5,0.02],[20.7,0.28],[20.8,-0.12],[20.9,0.6],[21.0,0.18],[21.1,0.47],[21.2,0.05],[21.3,0.3],[21.4,-0.18],[21.5,0.12],[21.6,0.22],[21.7,-0.08],[21.8,0.35],[21.9,0.1],
  [22.0,0.55],[22.1,0.2],[22.2,-0.2],[22.3,0.28],[22.4,0.06],[22.5,0.15],[22.6,-0.1],[22.7,0.32],[22.8,0.51],[22.9,0.02],[23.0,0.24],[23.1,-0.15],[23.2,0.12],[23.3,0.36],[23.4,0.18],[23.5,-0.04],[23.6,0.26],[23.7,0.08],[23.8,-0.22],[23.9,0.3],
  [24.0,0.14],[24.1,0.0],[24.2,0.22],[24.3,-0.12],[24.4,0.56],[24.5,0.33],[24.6,0.1],[24.7,0.2],[24.8,-0.05],[24.9,0.28],[21.5,0.38],[23.5,0.4],[20.5,0.4],
  [25.4,0.36],[25.9,0.35],[26.2,0.34],[26.2,0.23],[25.8,0.14],[26.6,0.19],[27.1,0.18],[27.3,0.24],[27.8,0.08],[28.1,0.22],[28.8,0.29],[28.7,0.04],[29.3,0.43],[29.4,0.15],[27.0,-0.02],[25.8,-0.1],[26.0,0.05],[27.6,0.3],[28.4,0.16],[29.0,0.1],
  [25.2,0.2],[26.8,0.12],[29.7,0.3],[28.0,0.35],
  [30.1,0.34],[30.4,0.43],[30.8,0.43],[30.9,0.29],[31.0,0.2],[30.2,0.04],[30.3,-0.07],[30.7,0.04],[31.4,0.32],[31.8,0.39],[32.1,0.43],[32.6,0.41],[32.0,0.18],[33.1,0.25],[33.4,0.12],[34.3,0.58],[34.6,0.5],[34.3,0.4],[34.3,0.29],[31.2,0.1],
  [35.4,0.19],[35.7,0.41],[36.3,0.37],[36.7,0.25],[37.8,0.34],[38.3,0.29]
];
const corrECore = [
  [0.1,0.99],[0.4,0.98],[0.7,0.96],[0.9,0.93],[1.05,0.91],[1.15,0.96],[1.25,0.86],[1.35,0.92],[1.45,0.83],[1.55,0.95],[1.65,0.88],[1.75,0.82],[1.85,0.9],[1.95,0.78],[2.05,0.93],[2.15,0.82],[2.25,0.88],[2.35,0.74],[2.45,0.86],[2.55,0.92],
  [2.65,0.76],[2.75,0.84],[2.85,0.7],[2.95,0.8],[3.05,0.88],[3.15,0.74],[3.25,0.84],[3.35,0.66],[3.45,0.78],[3.55,0.72],[3.65,0.8],[3.75,0.7],[3.85,0.62],[3.95,0.76],[4.05,0.68],[4.15,0.78],[4.25,0.64],[4.35,0.72],[4.45,0.8],[4.55,0.66],
  [4.65,0.74],[4.75,0.58],[4.85,0.68],[4.95,0.6],
  [5.05,0.22],[5.15,0.32],[5.25,0.1],[5.35,0.28],[5.45,0.18],[5.55,0.35],[5.65,0.24],[5.75,0.08],[5.85,0.3],[5.95,0.16],[6.05,0.26],[6.15,0.12],[6.25,0.34],[6.35,0.22],[6.45,0.06],[6.55,0.28],[6.65,0.16],[6.75,0.32],[6.85,0.2],[6.95,0.04],
  [7.05,0.18],[7.15,0.3],[7.25,0.12],[7.35,0.26],[7.45,0.16],[7.55,0.34],[7.65,0.06],[7.75,0.22],[7.85,0.3],[7.95,0.14],[8.05,0.26],[8.15,0.08],[8.25,0.2],[8.35,0.3],[8.45,0.12],[8.55,0.24],[8.65,0.16],[8.75,0.32],[8.85,0.1],[8.95,0.28],
  [9.05,0.22],[9.15,0.06],[9.25,0.18],[9.35,0.3],[9.45,0.14],[9.55,0.26],[9.65,0.1],[9.75,0.2],[9.85,0.34],[9.95,0.06],
  [10.05,0.28],[10.15,0.1],[10.25,0.2],[10.35,0.32],[10.45,0.04],[10.55,0.24],[10.65,0.14],[10.75,0.3],[10.85,0.06],[10.95,0.2],[11.05,0.32],[11.15,0.12],[11.25,0.26],[11.35,0.06],[11.45,0.2],[11.55,0.3],[11.65,0.12],[11.75,0.22],[11.85,0.04],[11.95,0.26],
  [12.05,0.12],[12.15,0.3],[12.25,0.06],[12.35,0.2],[12.45,0.34],[12.55,0.1],[12.65,0.24],[12.75,0.02],[12.85,0.18],[12.95,0.32],[13.05,0.06],[13.15,0.2],[13.25,0.28],[13.35,0.1],[13.45,0.22],[13.55,0.0],[13.65,0.3],[13.75,0.14],[13.85,0.2],[13.95,0.04],
  [14.05,0.24],[14.15,0.08],[14.25,0.18],[14.35,0.3],[14.45,0.1],[14.55,0.2],[14.65,0.28],[14.75,0.06],[14.85,0.16],[14.95,0.3],
  [15.05,0.12],[15.15,0.24],[15.25,0.02],[15.35,0.18],[15.45,0.3],[15.55,0.06],[15.65,0.22],[15.75,0.1],[15.85,0.28],[15.95,0.0],[16.05,0.16],[16.15,0.24],[16.25,-0.04],[16.35,0.1],[16.45,0.2],[16.55,0.32],[16.65,0.02],[16.75,0.18],[16.85,0.08],[16.95,0.28],
  [17.05,0.1],[17.15,-0.06],[17.25,0.2],[17.35,0.04],[17.45,0.26],[17.55,0.12],[17.65,-0.02],[17.75,0.16],[17.85,0.3],[17.95,0.06],[18.05,0.18],[18.15,-0.08],[18.25,0.12],[18.35,0.24],[18.45,0.02],[18.55,0.28],[18.65,0.08],[18.75,0.18],[18.85,-0.04],[18.95,0.22],
  [19.05,0.06],[19.15,0.2],[19.25,0.1],[19.35,-0.1],[19.45,0.16],[19.55,0.04],[19.65,0.26],[19.75,-0.06],[19.85,0.1],[19.95,0.2],
  [20.15,0.16],[20.35,0.22],[20.55,0.08],[20.75,0.3],[20.95,0.0],[21.15,0.14],[21.35,0.24],[21.55,-0.02],[21.75,0.18],[21.95,0.28],[22.15,0.1],[22.35,0.02],[22.55,0.24],[22.75,0.14],[22.95,0.32],[23.15,0.06],[23.35,0.2],[23.55,0.1],[23.75,0.3],[23.95,0.16],
  [24.15,0.24],[24.35,0.06],[24.55,0.18],[24.75,0.3],[24.95,0.1]
];
const corrF = [
  [0.05,1],[0.15,1],[0.3,1],[0.45,1],[0.6,1],[0.2,0.85],[0.3,0.78],[0.15,0.62],[0.4,0.55],[0.25,0.3],[0.5,0.38],[0.6,0.72],[0.4,0.68],[0.4,0.2],
  [1.0,0.85],[1.1,0.7],[1.2,0.78],[1.3,0.62],[1.4,0.88],[1.5,0.55],[1.6,0.73],[1.7,0.8],[1.8,0.45],[1.9,0.66],[2.0,0.82],[2.1,0.58],[2.2,0.75],[2.3,0.9],[2.4,0.5],[2.5,0.68],[2.6,0.8],[2.7,0.4],[2.8,0.62],[2.9,0.85],
  [3.0,0.55],[3.1,0.72],[3.2,0.88],[3.3,0.46],[3.4,0.65],[3.5,0.78],[3.6,0.35],[3.7,0.58],[3.8,0.82],[3.9,0.5],[4.0,0.7],[4.1,0.42],[4.2,0.6],[4.3,0.76],[4.4,0.3],[4.5,0.52],[4.6,0.68],[4.7,0.85],[4.8,0.44],[4.9,0.62],
  [1.1,-0.02],[1.5,-0.02],[1.3,-0.03],[2.0,0.35],[2.4,0.2],[2.7,0.15],[3.0,0.25],[3.3,0.1],[3.5,0.18],[3.2,0.05],[3.7,-0.1],[4.0,0.08],[4.3,0.15],[4.6,-0.05],[4.8,0.28],[3.4,-0.22],[2.8,-0.45],[3.7,-0.42],[4.6,-0.4],[2.1,0.28],
  [2.5,0.33],[4.2,0.4],[1.8,0.98],[5.0,0.95],
  [5.0,0.5],[5.1,0.32],[5.2,0.68],[5.3,0.15],[5.4,0.45],[5.5,0.58],[5.6,0.25],[5.7,0.75],[5.8,0.38],[5.9,0.05],[6.0,0.55],[6.1,0.28],[6.2,0.65],[6.3,0.42],[6.4,0.12],[6.5,0.35],[6.6,0.6],[6.7,0.2],[6.8,0.48],[6.9,0.72],
  [7.0,0.3],[7.1,0.52],[7.2,0.08],[7.3,0.4],[7.4,0.62],[7.5,0.25],[7.6,0.45],[7.7,0.8],[7.8,0.15],[7.9,0.55],[8.0,0.35],[8.1,0.68],[8.2,0.02],[8.3,0.44],[8.4,0.28],[8.5,0.6],[8.6,0.18],[8.7,0.5],[8.8,0.38],[8.9,0.7],
  [9.0,0.1],[9.1,0.46],[9.2,0.26],[9.3,0.58],[9.4,0.33],[9.5,-0.02],[9.6,0.42],[9.7,0.2],[9.8,0.64],[9.9,0.3],
  [5.5,-0.15],[6.2,-0.25],[6.8,-0.4],[7.3,-0.28],[7.9,-0.38],[8.5,-0.42],[9.0,-0.3],[9.5,-0.47],[9.8,-0.49],[6.5,-0.1],[7.6,-0.12],[8.8,-0.2],[5.8,0.85],[6.4,0.78],[8.3,0.88],[9.2,0.9],[7.0,0.92],[5.3,0.92],
  [10.0,0.42],[10.1,0.15],[10.2,0.6],[10.3,-0.1],[10.4,0.3],[10.5,0.52],[10.6,0.05],[10.7,0.38],[10.8,0.7],[10.9,0.2],[11.0,0.45],[11.1,-0.2],[11.2,0.33],[11.3,0.58],[11.4,0.1],[11.5,0.4],[11.6,0.25],[11.7,0.66],[11.8,-0.05],[11.9,0.5],
  [12.0,0.3],[12.1,0.75],[12.2,0.12],[12.3,0.45],[12.4,-0.28],[12.5,0.35],[12.6,0.6],[12.7,0.02],[12.8,0.48],[12.9,0.22],[13.0,0.68],[13.1,-0.15],[13.2,0.38],[13.3,0.1],[13.4,0.55],[13.5,0.28],[13.6,-0.35],[13.7,0.44],[13.8,0.16],[13.9,0.62],
  [14.0,-0.05],[14.1,0.35],[14.2,0.5],[14.3,0.08],[14.4,0.7],[14.5,0.25],[14.6,-0.22],[14.7,0.42],[14.8,0.15],[14.9,0.58],
  [10.5,-0.42],[11.3,-0.38],[12.8,-0.45],[13.3,-0.43],[14.0,-0.4],[14.8,-0.3],[10.1,0.82],[11.0,0.8],[12.4,0.8],[13.5,0.8],[14.3,0.78],
  [15.0,0.3],[15.1,0.55],[15.2,0.05],[15.3,0.42],[15.4,-0.15],[15.5,0.68],[15.6,0.2],[15.7,0.48],[15.8,-0.3],[15.9,0.35],[16.0,0.6],[16.1,0.1],[16.2,0.4],[16.3,0.72],[16.4,-0.05],[16.5,0.28],[16.6,0.52],[16.7,-0.4],[16.8,0.18],[16.9,0.45],
  [17.0,0.65],[17.1,0.0],[17.2,0.33],[17.3,-0.25],[17.4,0.56],[17.5,0.14],[17.6,0.38],[17.7,-0.45],[17.8,0.62],[17.9,0.22],[18.0,0.46],[18.1,-0.1],[18.2,0.3],[18.3,0.7],[18.4,0.08],[18.5,0.4],[18.6,-0.35],[18.7,0.55],[18.8,0.18],[18.9,0.35],
  [19.0,-0.2],[19.1,0.6],[19.2,0.12],[19.3,0.48],[19.4,0.82],[19.5,0.25],[19.6,-0.42],[19.7,0.4],[19.8,0.05],[19.9,0.66],
  [20.1,0.8],[20.2,0.3],[20.3,0.5],[20.4,-0.1],[20.5,0.15],[20.6,0.62],[20.7,-0.3],[20.8,0.38],[20.9,0.05],[21.0,0.55],[21.1,-0.46],[21.2,0.22],[21.4,-0.39],[21.5,0.73],[21.6,0.3],[21.7,0.1],[21.8,0.45],[21.9,-0.2],[22.0,0.6],[22.1,0.18],
  [22.3,0.35],[22.4,-0.05],[22.5,0.5],[22.6,0.25],[22.8,-0.32],[22.9,-0.45],[23.0,0.4],[23.1,0.12],[23.2,0.58],[23.4,0.79],[23.5,0.28],[23.6,-0.15],[23.7,0.45],[23.8,0.05],[24.0,0.79],[24.1,0.35],[24.2,-0.25],[24.3,0.2],[24.4,0.55],[24.5,0.1],
  [24.6,0.42],[24.7,-0.05],[24.8,0.3],[24.9,0.62],
  [25.0,0.5],[25.5,0.51],[25.2,0.18],[25.9,0.04],[26.3,-0.16],[26.2,-0.44],[26.5,0.6],[27.2,0.65],[27.6,0.65],[27.0,0.26],[27.3,0.29],[27.2,0.46],[27.6,0.22],[27.4,-0.38],[28.1,-0.3],[28.0,0.58],[28.3,0.53],[28.7,0.51],[29.0,0.66],[28.6,0.18],
  [29.2,0.28],[29.4,0.34],[29.6,0.38],[25.6,0.12],[26.0,0.1],[25.3,-0.05],
  [30.0,0.55],[30.4,0.5],[30.0,0.18],[30.6,0.17],[30.8,0.12],[30.3,0.02],[30.8,0.02],[31.0,0.02],[30.3,-0.32],[30.3,-0.49],[30.8,0.6],[31.1,0.72],[31.7,-0.17],[31.7,0.46],[32.0,0.34],[31.9,-0.41],[32.2,0.51],[33.0,0.22],[33.0,-0.46],[33.8,0.58],
  [34.1,0.57],[33.8,0.07],[33.8,-0.1],
  [35.4,-0.27],[35.5,-0.14],[36.2,-0.46],[36.4,0.57],[36.8,0.46],[37.8,0.08],[38.4,-0.28]
];
const corrFCore = [
  [1.05,0.76],[1.15,0.58],[1.25,0.85],[1.35,0.7],[1.45,0.64],[1.55,0.8],[1.65,0.5],[1.75,0.68],[1.85,0.78],[1.95,0.6],[2.05,0.72],[2.15,0.86],[2.25,0.52],[2.35,0.66],[2.45,0.8],[2.55,0.58],[2.65,0.72],[2.75,0.86],[2.85,0.48],[2.95,0.7],
  [3.05,0.8],[3.15,0.6],[3.25,0.74],[3.35,0.82],[3.45,0.56],[3.55,0.68],[3.65,0.86],[3.75,0.48],[3.85,0.7],[3.95,0.62],[4.05,0.78],[4.15,0.55],[4.25,0.68],[4.35,0.5],[4.45,0.8],[4.55,0.6],[4.65,0.72],[4.75,0.45],[4.85,0.64],[4.95,0.76],
  [5.05,0.62],[5.15,0.45],[5.25,0.55],[5.35,0.3],[5.45,0.66],[5.55,0.4],[5.65,0.52],[5.75,0.22],[5.85,0.6],[5.95,0.44],[6.05,0.34],[6.15,0.58],[6.25,0.46],[6.35,0.28],[6.45,0.62],[6.55,0.5],[6.65,0.36],[6.75,0.55],[6.85,0.25],[6.95,0.44],
  [7.05,0.6],[7.15,0.35],[7.25,0.5],[7.35,0.2],[7.45,0.42],[7.55,0.58],[7.65,0.3],[7.75,0.5],[7.85,0.4],[7.95,0.65],[8.05,0.24],[8.15,0.46],[8.25,0.55],[8.35,0.32],[8.45,0.48],[8.55,0.16],[8.65,0.4],[8.75,0.6],[8.85,0.26],[8.95,0.5],
  [9.05,0.36],[9.15,0.56],[9.25,0.14],[9.35,0.42],[9.45,0.6],[9.55,0.3],[9.65,0.52],[9.75,0.1],[9.85,0.44],[9.95,0.56],
  [10.05,0.32],[10.15,0.5],[10.25,0.2],[10.35,0.44],[10.45,0.6],[10.55,0.28],[10.65,0.45],[10.75,0.12],[10.85,0.36],[10.95,0.55],[11.05,0.25],[11.15,0.42],[11.25,0.05],[11.35,0.3],[11.45,0.5],[11.55,0.18],[11.65,0.38],[11.75,0.55],[11.85,0.22],[11.95,0.42],
  [12.05,0.12],[12.15,0.32],[12.25,0.52],[12.35,0.26],[12.45,0.4],[12.55,0.02],[12.65,0.3],[12.75,0.5],[12.85,0.15],[12.95,0.38],[13.05,0.25],[13.15,0.55],[13.25,0.0],[13.35,0.32],[13.45,0.42],[13.55,0.18],[13.65,0.36],[13.75,0.6],[13.85,0.08],[13.95,0.3],
  [14.05,0.45],[14.15,0.2],[14.25,0.35],[14.35,-0.05],[14.45,0.28],[14.55,0.5],[14.65,0.12],[14.75,0.32],[14.85,0.45],[14.95,0.22],
  [15.05,0.44],[15.15,0.2],[15.25,0.58],[15.35,0.1],[15.45,0.35],[15.55,0.26],[15.65,0.5],[15.75,-0.05],[15.85,0.3],[15.95,0.45],[16.05,0.15],[16.15,0.38],[16.25,0.55],[16.35,0.22],[16.45,0.04],[16.55,0.35],[16.65,0.48],[16.75,0.12],[16.85,0.3],[16.95,0.6],
  [17.05,0.2],[17.15,0.42],[17.25,-0.08],[17.35,0.3],[17.45,0.5],[17.55,0.16],[17.65,0.36],[17.75,0.05],[17.85,0.45],[17.95,0.28],[18.05,0.6],[18.15,0.15],[18.25,0.4],[18.35,-0.12],[18.45,0.32],[18.55,0.5],[18.65,0.2],[18.75,0.42],[18.85,0.0],[18.95,0.3],
  [20.15,0.42],[20.35,0.2],[20.55,0.5],[20.75,0.08],[20.95,0.35],[21.15,0.58],[21.35,0.15],[21.55,0.4],[21.75,-0.12],[21.95,0.3],[22.15,0.48],[22.35,0.1],[22.55,0.36],[22.75,0.55],[22.95,0.2],[23.15,-0.08],[23.35,0.44],[23.55,0.25],[23.75,0.6],[23.95,0.12],
  [24.15,0.38],[24.35,0.22],[24.55,-0.15],[24.75,0.45],[24.95,0.28]
];

// per-panel axis floor, significance level (*) and dotted reference level
const corrSets = [corrC.concat(corrCCore), corrD.concat(corrDCore), corrE.concat(corrECore), corrF.concat(corrFCore)];
const corrFloor = [-0.4, -0.4, -0.5, -0.5];
const sigLevel = [0.4, 0.4, 0.4, 0.4];
const refLevel = [0, 0, -0.1, -0.05];

const FONT = '"Liberation Sans", Arial, Helvetica, sans-serif';
const INK = '#1e1e1e';
Chart.defaults.font.family = FONT;
Chart.defaults.color = INK;

const toXY = arr => arr.map(([x, y]) => ({ x, y }));
const fixBox = (w, h) => s => {
  if (w != null) s.width = w;
  if (h != null) s.height = h;
  s.paddingLeft = 0; s.paddingRight = 0; s.paddingTop = 0; s.paddingBottom = 0;
};
const bare = { display: false, drawTicks: false };

// inward tick marks on all four sides
function innerTicks(ctx, a, x, y, len, skipEnds) {
  ctx.beginPath();
  x.ticks.forEach(t => {
    if (skipEnds && (t.value <= x.min + 1e-9 || t.value >= x.max - 1e-9)) return;
    const px = x.getPixelForValue(t.value);
    ctx.moveTo(px, a.bottom); ctx.lineTo(px, a.bottom - len.x);
    ctx.moveTo(px, a.top); ctx.lineTo(px, a.top + len.x);
  });
  y.ticks.forEach(t => {
    if (skipEnds && (t.value <= y.min + 1e-9 || t.value >= y.max - 1e-9)) return;
    const py = y.getPixelForValue(t.value);
    ctx.moveTo(a.left, py); ctx.lineTo(a.left + len.y, py);
    ctx.moveTo(a.right, py); ctx.lineTo(a.right - len.y, py);
  });
  ctx.stroke();
}

// ---------- (a) ----------
const schemeDecor = {
  id: 'schemeDecor',
  afterDatasetsDraw(chart) {
    const { ctx, chartArea: a, scales: { x, y } } = chart;
    ctx.save();
    // shift arrow
    const x0 = x.getPixelForValue(18.8), xh = x.getPixelForValue(30.5), x1 = x.getPixelForValue(34.5);
    const yc = y.getPixelForValue(0.557);
    const sh = y.getPixelForValue(0.557 - 0.047) - yc, hh = y.getPixelForValue(0.557 - 0.089) - yc;
    const g = ctx.createLinearGradient(x0, 0, x1, 0);
    g.addColorStop(0, '#a4c0e4'); g.addColorStop(1, '#89acd9');
    ctx.fillStyle = g;
    ctx.beginPath();
    ctx.moveTo(x0, yc - sh); ctx.lineTo(xh, yc - sh); ctx.lineTo(xh, yc - hh); ctx.lineTo(x1, yc);
    ctx.lineTo(xh, yc + hh); ctx.lineTo(xh, yc + sh); ctx.lineTo(x0, yc + sh); ctx.closePath();
    ctx.fill();
    // heading
    ctx.fillStyle = INK;
    ctx.textBaseline = 'middle';
    ctx.font = '27px ' + FONT;
    ctx.fillText('Impacts of Urbanization', a.left + 38, a.top + 30);
    // legend
    ctx.lineWidth = 4;
    ctx.strokeStyle = '#e8161b';
    ctx.beginPath(); ctx.moveTo(a.left + 376, a.top + 52); ctx.lineTo(a.left + 421, a.top + 52); ctx.stroke();
    ctx.strokeStyle = '#6b9bd2';
    ctx.beginPath(); ctx.moveTo(a.left + 376, a.top + 89); ctx.lineTo(a.left + 421, a.top + 89); ctx.stroke();
    ctx.font = 'bold 20px ' + FONT;
    ctx.fillText('No-Urban', a.left + 426, a.top + 52);
    ctx.fillText('With Urban', a.left + 426, a.top + 87);
    ctx.fillText('Feedback', a.left + 426, a.top + 108);
    // frame
    ctx.strokeStyle = INK; ctx.lineWidth = 2.5;
    ctx.strokeRect(a.left, a.top, a.width, a.height);
    ctx.restore();
  }
};

new Chart(document.getElementById('chartA'), {
  type: 'line',
  data: {
    datasets: [
      { label: 'No-Urban', data: toXY(schemeNoUrban), borderColor: '#e8161b', borderWidth: 3.5, pointRadius: 0, cubicInterpolationMode: 'monotone' },
      { label: 'With Urban Feedback', data: toXY(schemeUrban), borderColor: '#6b9bd2', borderWidth: 3, pointRadius: 0, cubicInterpolationMode: 'monotone' }
    ]
  },
  options: {
    responsive: false, animation: false, events: [],
    layout: { padding: { left: 0, top: 33, right: 29, bottom: 0 } },
    plugins: { legend: { display: false }, tooltip: { enabled: false } },
    scales: {
      x: { type: 'linear', min: 0, max: 100, ticks: { display: false }, grid: bare, border: { display: false },
           title: { display: true, text: 'Rainfall(daily/sub-daily)', font: { size: 27 }, padding: { top: 0, bottom: 10 } },
           afterFit: fixBox(null, 47) },
      y: { min: 0, max: 1, ticks: { display: false }, grid: bare, border: { display: false },
           title: { display: true, text: ['Probability', 'Distribution'], font: { size: 27, lineHeight: 0.98 }, padding: { top: 14 } },
           afterFit: fixBox(77, null) }
    }
  },
  plugins: [schemeDecor]
});

// ---------- (b) ----------
const runColors = { NOUCM: '#1414ee', SUCM: '#ee1c1c', MUCM: '#22e622' };
const densityDecor = {
  id: 'densityDecor',
  afterDatasetsDraw(chart) {
    const { ctx, chartArea: a, scales: { x, y } } = chart;
    ctx.save();
    ctx.strokeStyle = INK; ctx.lineWidth = 2;
    innerTicks(ctx, a, x, y, { x: 6, y: 6 }, true);
    ctx.lineWidth = 2.2;
    ctx.strokeRect(a.left, a.top, a.width, a.height);
    ctx.font = 'bold 18px ' + FONT;
    ctx.textBaseline = 'middle';
    Object.entries(runColors).forEach(([name, col], i) => {
      const ly = a.top + 27.5 + i * 21.5;
      ctx.strokeStyle = col; ctx.lineWidth = 3;
      ctx.beginPath(); ctx.moveTo(a.left + 310, ly); ctx.lineTo(a.left + 347, ly); ctx.stroke();
      ctx.fillStyle = INK;
      ctx.fillText(name, a.left + 351, ly + 1);
    });
    ctx.restore();
  }
};

const runLine = (pts, col) => ({ data: toXY(pts), borderColor: col, borderWidth: 3, pointRadius: 0, cubicInterpolationMode: 'monotone' });

new Chart(document.getElementById('chartB'), {
  type: 'line',
  data: {
    datasets: [
      ...noucmRuns.map(r => runLine(r, runColors.NOUCM)),
      ...sucmRuns.map(r => runLine(r, runColors.SUCM)),
      ...mucmRuns.map(r => runLine(r, runColors.MUCM))
    ]
  },
  options: {
    responsive: false, animation: false, events: [],
    layout: { padding: { left: 0, top: 25.5, right: 42, bottom: 0 } },
    plugins: { legend: { display: false }, tooltip: { enabled: false } },
    scales: {
      x: { type: 'linear', min: 0, max: 200, ticks: { stepSize: 50, font: { size: 27, weight: 'bold' }, padding: 9, maxRotation: 0 },
           grid: bare, border: { display: false },
           title: { display: true, text: 'Rainfall (mm/day)', font: { size: 28, weight: 'bold' }, padding: { top: 0, bottom: 0 } },
           afterFit: fixBox(null, 74) },
      y: { min: 0, max: 0.03, ticks: { stepSize: 0.01, font: { size: 27, weight: 'bold' }, padding: 9 },
           grid: bare, border: { display: false },
           title: { display: true, text: 'Probability Density', font: { size: 25, weight: 'bold' }, padding: { top: 8 } },
           afterFit: fixBox(113, null) }
    }
  },
  plugins: [densityDecor]
});

// ---------- (c)-(f) ----------
const corrDecor = {
  id: 'corrDecor',
  beforeDatasetsDraw(chart, _args, opts) {
    const { ctx, chartArea: a, scales: { x, y } } = chart;
    ctx.save();
    ctx.strokeStyle = '#333'; ctx.lineWidth = 1;
    ctx.setLineDash([5, 3, 1.5, 3]);
    ctx.beginPath();
    x.ticks.forEach(t => {
      if (t.value <= x.min || t.value >= x.max) return;
      const px = Math.round(x.getPixelForValue(t.value)) + 0.5;
      ctx.moveTo(px, a.top); ctx.lineTo(px, a.bottom);
    });
    ctx.stroke();
    ctx.strokeStyle = '#555'; ctx.setLineDash([2, 3]);
    const ry = Math.round(y.getPixelForValue(opts.ref)) + 0.5;
    ctx.beginPath(); ctx.moveTo(a.left, ry); ctx.lineTo(a.right, ry); ctx.stroke();
    ctx.restore();
  },
  afterDatasetsDraw(chart, _args, opts) {
    const { ctx, chartArea: a, scales: { x, y } } = chart;
    ctx.save();
    ctx.strokeStyle = '#111'; ctx.lineWidth = 3.5; ctx.setLineDash([16, 10]);
    const sy = y.getPixelForValue(opts.sig);
    ctx.beginPath(); ctx.moveTo(x.getPixelForValue(0.4), sy); ctx.lineTo(x.getPixelForValue(38.8), sy); ctx.stroke();
    ctx.setLineDash([]);
    ctx.strokeStyle = INK; ctx.lineWidth = 2;
    innerTicks(ctx, a, x, y, { x: 8, y: 7 }, true);
    ctx.lineWidth = 2.5;
    ctx.strokeRect(a.left, a.top, a.width, a.height);
    ctx.restore();
  }
};

const corrLayout = [
  { id: 'chartC', padTop: 17, padRight: 19, xHeight: 58, tickPad: 11, titlePad: 2 },
  { id: 'chartD', padTop: 17, padRight: 14, xHeight: 68, tickPad: 11, titlePad: 4 },
  { id: 'chartE', padTop: 16.7, padRight: 19, xHeight: 66, tickPad: 8, titlePad: 1 },
  { id: 'chartF', padTop: 16.7, padRight: 15, xHeight: 66, tickPad: 8, titlePad: 1 }
];

corrLayout.forEach((p, i) => {
  const sig = sigLevel[i];
  const isSig = v => Math.abs(v - sig) < 1e-6;
  new Chart(document.getElementById(p.id), {
    type: 'scatter',
    data: {
      datasets: [{
        data: toXY(corrSets[i]), pointStyle: 'circle', pointRadius: 3, borderWidth: 1.3,
        borderColor: 'rgba(104,166,38,0.95)', backgroundColor: 'rgba(0,0,0,0)', clip: false
      }]
    },
    options: {
      responsive: false, animation: false, events: [],
      layout: { padding: { left: 0, top: p.padTop, right: p.padRight, bottom: 0 } },
      plugins: { legend: { display: false }, tooltip: { enabled: false }, corrDecor: { sig, ref: refLevel[i] } },
      scales: {
        x: { type: 'linear', min: 0, max: 40,
             ticks: { stepSize: 5, autoSkip: false, maxRotation: 0, padding: p.tickPad, font: { size: 20, weight: 'bold' } },
             grid: bare, border: { display: false },
             title: { display: true, text: 'Distance(km)', font: { size: 22, weight: 'bold' }, padding: { top: 0, bottom: p.titlePad } },
             afterFit: fixBox(null, p.xHeight) },
        y: { min: corrFloor[i], max: 1,
             ticks: { stepSize: 0.1, autoSkip: false, padding: 6, labelOffset: 4,
                      font: c => ({ size: c.tick && isSig(c.tick.value) ? 28 : 22, weight: 'bold' }),
                      callback: v => Math.abs(v - 1) < 1e-6 ? '1' : (isSig(v) ? '*' : '') },
             grid: bare, border: { display: false },
             title: { display: true, text: ['Correlation', 'Co-efficient'], font: { size: 22, weight: 'bold', lineHeight: 1.23 }, padding: { top: 6.5 } },
             afterFit: fixBox(83, null) }
      }
    },
    plugins: [corrDecor]
  });
});
</script>
</body>
</html>
